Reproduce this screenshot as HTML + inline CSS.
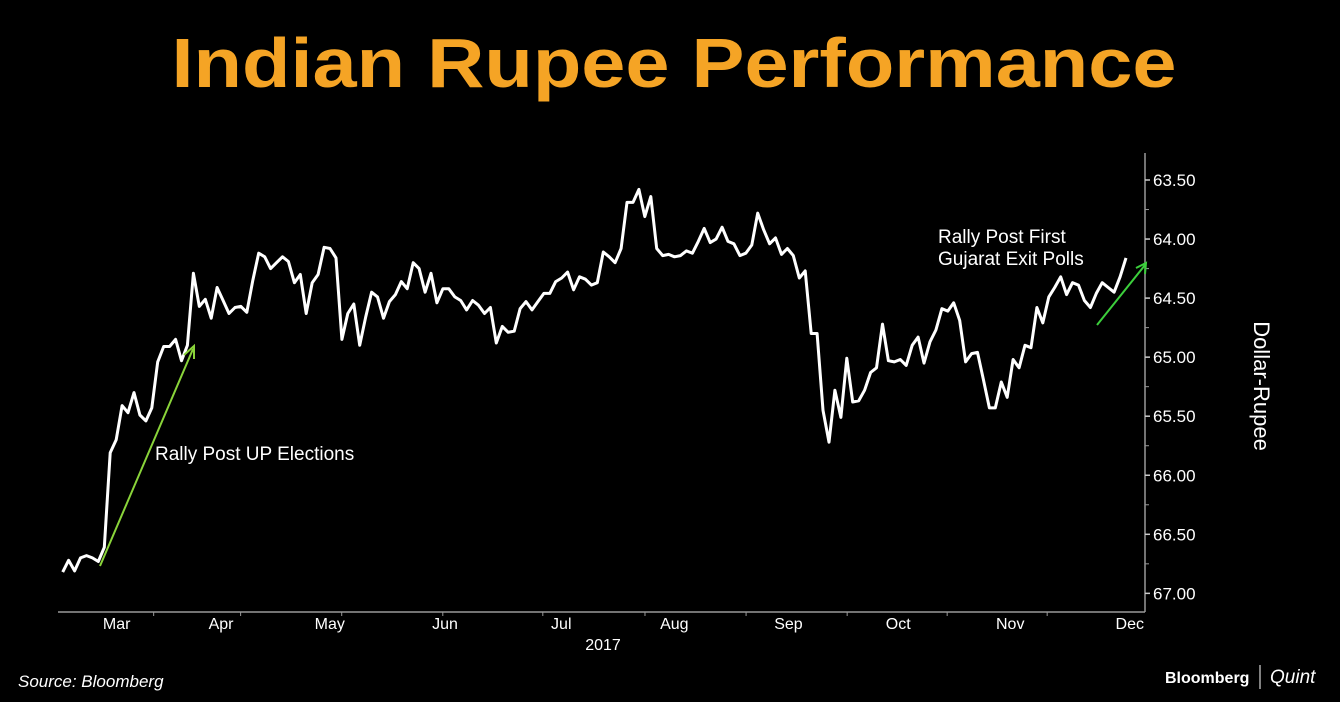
<!DOCTYPE html>
<html><head><meta charset="utf-8"><style>
html,body{margin:0;padding:0;background:#000;}
svg{display:block;}
text{font-family:"Liberation Sans","DejaVu Sans",sans-serif;}
</style></head><body>
<svg id="chart" width="1340" height="702" viewBox="0 0 1340 702">
<rect x="0" y="0" width="1340" height="702" fill="#000"/>
<text x="674" y="87" text-anchor="middle" font-size="70" font-weight="bold" fill="#f5a425" textLength="1005" lengthAdjust="spacingAndGlyphs">Indian Rupee Performance</text>
<g id="axes"></g>
<g id="series"></g>
<line x1="100" y1="566" x2="193" y2="349" stroke="#8ad43a" stroke-width="2"/>
<polyline points="184,355 194,346 194,359" fill="none" stroke="#8ad43a" stroke-width="2"/>
<line x1="1097" y1="325" x2="1145" y2="265" stroke="#3ccf3c" stroke-width="2"/>
<polyline points="1136,268 1146,263 1145,274" fill="none" stroke="#3ccf3c" stroke-width="2"/>
<text x="155" y="460" font-size="19" fill="#fff">Rally Post UP Elections</text>
<text x="938" y="243" font-size="19" fill="#fff">Rally Post First</text>
<text x="938" y="265" font-size="19" fill="#fff">Gujarat Exit Polls</text>
<text x="0" y="0" transform="translate(1254,386) rotate(90)" text-anchor="middle" font-size="22" fill="#fff">Dollar-Rupee</text>
<text x="603" y="650" text-anchor="middle" font-size="16" fill="#fff">2017</text>
<text x="18" y="687" font-size="17" font-style="italic" fill="#fff">Source: Bloomberg</text>
<text x="1165" y="683" font-size="16" font-weight="bold" fill="#fff">Bloomberg</text>
<line x1="1260" y1="665" x2="1260" y2="689" stroke="#fff" stroke-width="1"/>
<text x="1270" y="683" font-size="19" font-style="italic" font-family="Liberation Serif, serif" fill="#fff">Quint</text>
</svg>
<script>
const values = [66.82,66.72,66.81,66.70,66.68,66.70,66.73,66.61,65.81,65.70,65.41,65.47,65.30,65.49,65.54,65.43,65.04,64.91,64.91,64.85,65.03,64.90,64.29,64.57,64.51,64.67,64.41,64.52,64.63,64.58,64.57,64.62,64.35,64.12,64.15,64.25,64.20,64.15,64.19,64.37,64.30,64.63,64.37,64.30,64.07,64.08,64.16,64.85,64.63,64.55,64.90,64.66,64.45,64.49,64.67,64.53,64.47,64.36,64.42,64.20,64.25,64.45,
64.29,64.54,64.42,64.42,64.49,64.52,64.60,64.52,64.56,64.63,64.58,64.88,64.74,64.79,64.78,64.59,64.53,64.60,64.53,64.46,64.46,64.36,64.33,64.28,64.43,64.32,64.34,64.39,64.37,64.11,64.15,64.20,64.08,63.69,63.69,63.58,63.81,63.64,64.08,64.14,64.13,64.15,64.14,64.10,64.12,64.02,63.91,64.03,64.00,63.90,64.02,64.04,64.14,64.12,64.05,63.78,63.92,64.04,63.99,64.13,64.08,64.14,64.33,64.27,64.80,64.80,65.45,65.72,
65.28,65.51,65.01,65.38,65.37,65.28,65.13,65.09,64.72,65.03,65.04,65.02,65.07,64.90,64.83,65.05,64.87,64.77,64.59,64.61,64.54,64.69,65.04,64.97,64.96,65.19,65.43,65.43,65.21,65.34,65.02,65.09,64.90,64.92,64.58,64.71,64.49,64.41,64.32,64.47,64.37,64.39,64.52,64.58,64.46,64.37,64.41,64.45,64.32,64.16];
const yTicks = [63.5,64.0,64.5,65.0,65.5,66.0,66.5,67.0];
const yTickLabels = ["63.50","64.00","64.50","65.00","65.50","66.00","66.50","67.00"];
const months = ["Mar","Apr","May","Jun","Jul","Aug","Sep","Oct","Nov","Dec"];
const monthFrac = [0.054,0.150,0.250,0.356,0.463,0.567,0.672,0.773,0.876,0.986];
const monthTickFrac = [0.088,0.168,0.261,0.354,0.446,0.540,0.633,0.726,0.818,0.910];

const NS="http://www.w3.org/2000/svg";
const L=58,R=1145,T=153,B=612;
function yScale(v){return 180+(v-63.5)*118.1;}
function xIndex(i){return 62.7+i*(1126-62.7)/(values.length-1);}
function xFrac(f){return L+f*(R-L);}
function mk(tag,attrs,parent){const e=document.createElementNS(NS,tag);for(const k in attrs)e.setAttribute(k,attrs[k]);parent.appendChild(e);return e;}
const axes=document.getElementById('axes');
const series=document.getElementById('series');

let a=mk('line',{x1:L,y1:B,x2:R,y2:B,stroke:'#999','stroke-width':1.5},axes);


a=mk('line',{x1:R,y1:T,x2:R,y2:B,stroke:'#999','stroke-width':1.5},axes);



yTicks.forEach((v,i)=>{
  const y=yScale(v);
  const t=mk('line',{x1:R,y1:y,x2:R+5,y2:y,stroke:'#ccc','stroke-width':1.5},axes);
  
  
  if(i<yTicks.length-1){
    const m=mk('line',{x1:R,y1:yScale(v+0.25),x2:R+4,y2:yScale(v+0.25),stroke:'#999','stroke-width':1},axes);
    
    
  }
  const tx=mk('text',{x:R+8,y:y+6,'font-size':17,fill:'#fff'},axes);
  tx.textContent=yTickLabels[i];
  
  
});
months.forEach((m,i)=>{
  const tx=mk('text',{x:xFrac(monthFrac[i]),y:629,'font-size':16,fill:'#fff','text-anchor':'middle'},axes);
  tx.textContent=m;
  
  
  const tk=mk('line',{x1:xFrac(monthTickFrac[i]),y1:B,x2:xFrac(monthTickFrac[i]),y2:B+4,stroke:'#999','stroke-width':1},axes);
  
  
});
const pts=values.map((v,i)=>xIndex(i).toFixed(1)+','+yScale(v).toFixed(1)).join(' ');
const line=mk('polyline',{points:pts,fill:'none',stroke:'#fff','stroke-width':3,'stroke-linejoin':'round'},series);


</script>
</body></html>
